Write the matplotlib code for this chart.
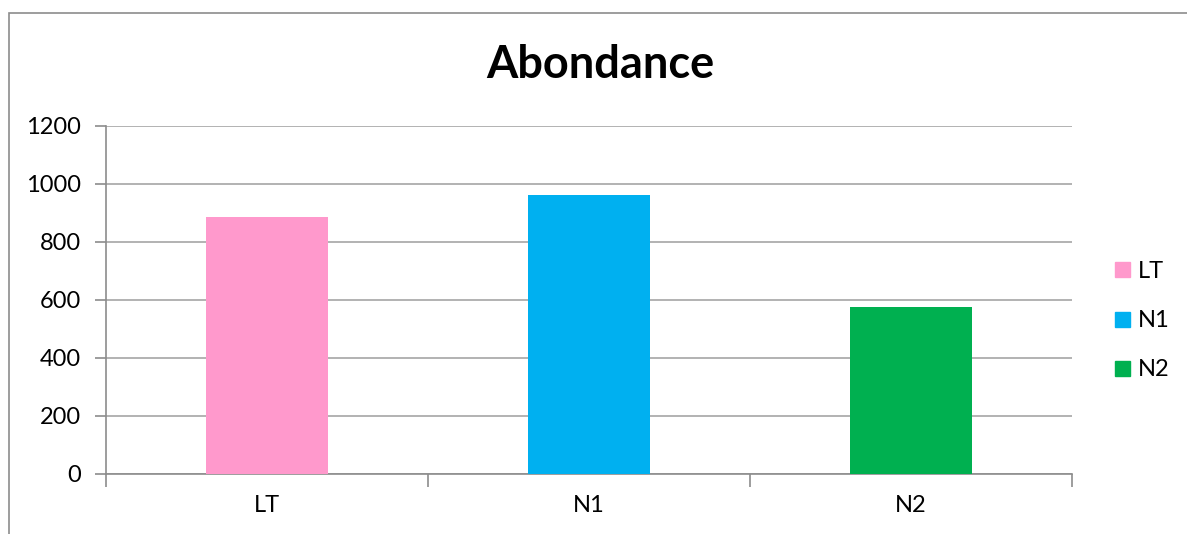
import matplotlib.pyplot as plt
from matplotlib.lines import Line2D
from matplotlib.patches import Rectangle

# données
categories = ["LT", "N1", "N2"]
abondance = [886, 961, 576]
couleurs = ["#FF99CC", "#00B0F0", "#00B050"]
yticks = [0, 200, 400, 600, 800, 1000, 1200]

plt.rcParams['font.family'] = ['Lato', 'DejaVu Sans']

fig = plt.figure(figsize=(11.87, 5.34), dpi=100)
ax = fig.add_axes([0.0893, 0.1129, 0.8138, 0.6517])

x = range(len(categories))
ax.bar(x, abondance, width=0.38, color=couleurs, zorder=3)

ax.set_xlim(-0.5, len(categories) - 0.5)
ax.set_ylim(0, 1200)
ax.set_yticks(yticks)
ax.set_yticklabels([str(v) for v in yticks], fontsize=17)
ax.set_xticks(list(x))
ax.set_xticklabels(categories, fontsize=17)
ax.set_xticks([i - 0.5 for i in range(len(categories) + 1)], minor=True)

ax.grid(axis='y', color='#a6a6a6', linewidth=1.2, zorder=0)
for s in ['top', 'right']:
    ax.spines[s].set_visible(False)
for s in ['left', 'bottom']:
    ax.spines[s].set_color('#8c8c8c')
    ax.spines[s].set_linewidth(1.2)
ax.tick_params(axis='y', length=8, width=1.2, color='#8c8c8c', pad=10)
ax.tick_params(axis='x', which='major', length=0, pad=15)
ax.tick_params(axis='x', which='minor', length=9, width=1.2, color='#8c8c8c')

fig.text(0.506, 0.878, "Abondance", ha='center', va='center',
         fontsize=32.5, fontweight='bold')

handles = [Line2D([], [], marker='s', linestyle='none', markersize=10.8,
                  markerfacecolor=c, markeredgecolor=c) for c in couleurs]
fig.legend(handles, categories, loc='center left',
           bbox_to_anchor=(0.937, 0.40), frameon=False, fontsize=17,
           handlelength=0.8, handletextpad=0.3, labelspacing=1.2,
           borderpad=0, borderaxespad=0)

# cadre du graphique
fig.add_artist(Rectangle((9.5 / 1187, -0.1), 1.2, (534 - 12.7) / 534 + 0.1,
                         transform=fig.transFigure, fill=False,
                         edgecolor='#8c8c8c', linewidth=1.2))

fig.savefig("out.png", dpi=100)
